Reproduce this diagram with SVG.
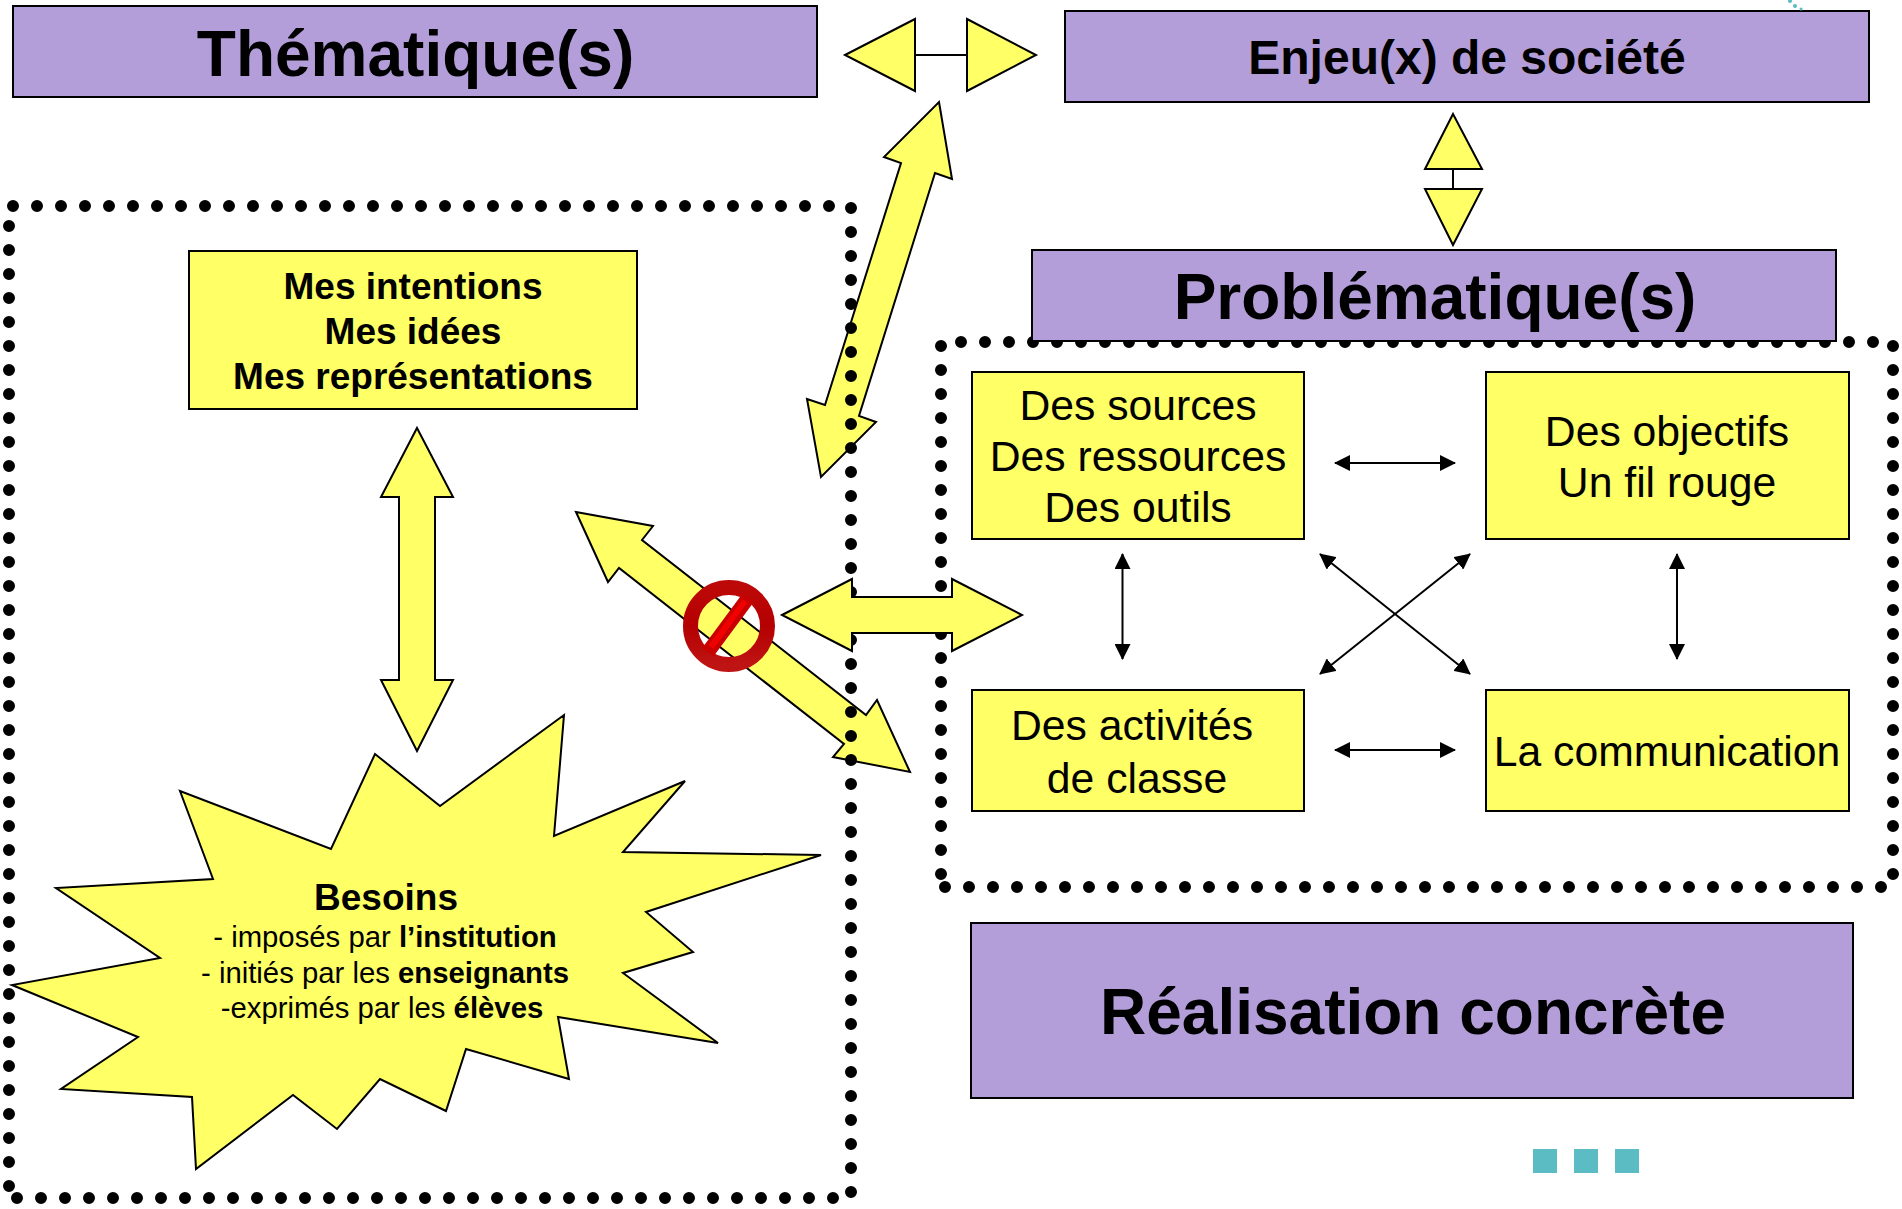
<svg xmlns="http://www.w3.org/2000/svg" width="1902" height="1209" viewBox="0 0 1902 1209">
<style>
text{font-family:"Liberation Sans",Arial,sans-serif;fill:#000;text-anchor:middle}
.p{fill:#b39ed9;stroke:#000;stroke-width:2}
.y{fill:#ffff66;stroke:#000;stroke-width:2}
.ya{fill:#ffff66;stroke:#000;stroke-width:2;stroke-linejoin:miter}
.t64{font-size:64px;font-weight:700}
.t48{font-size:48px;font-weight:700}
.t42{font-size:42.700px}
.t37{font-size:37px;font-weight:700}
.t28{font-size:29.300px}
.b{font-weight:700}
.dots{fill:none;stroke:#000;stroke-width:12;stroke-linecap:round;stroke-dasharray:0 24}
.thin{stroke:#000;stroke-width:2;fill:none;marker-start:url(#ah);marker-end:url(#ah)}
.sq{fill:#5bbcc4}
</style>
<defs>
<marker id="ah" markerUnits="userSpaceOnUse" markerWidth="16" markerHeight="16" refX="15" refY="8" orient="auto-start-reverse" viewBox="0 0 16 16"><path d="M0 0L16 8L0 16Z" fill="#000"/></marker>
<clipPath id="not-h"><path clip-rule="evenodd" d="M0 0H1902V1209H0Z M782 615L852 579V597H952V579L1022 615L952 651V633H852V651Z"/></clipPath>
<linearGradient id="ring" x1="0" y1="0" x2="0" y2="1"><stop offset="0" stop-color="#bd0808"/><stop offset=".5" stop-color="#b40000"/><stop offset="1" stop-color="#bf1414"/></linearGradient>
</defs>
<rect width="1902" height="1209" fill="#fff"/>

<g id="connectors">
<g id="arrow-thematique-enjeu"><path class="ya" d="M845 55L915 19V91Z"/><path class="ya" d="M967 19L1036 55L967 91Z"/><path d="M915 55H967" stroke="#000" stroke-width="2"/></g>
<g id="arrow-enjeu-problematique"><path class="ya" d="M1453 114L1482 169H1425Z"/><path class="ya" d="M1425 189H1482L1453 245Z"/><path d="M1453 169V189" stroke="#000" stroke-width="2"/></g>
<path id="arrow-diag-top" class="ya" d="M939 102L952 179L935 173L859 416L876 422L821 477L807 399L825 405L901 163L884 157Z"/>
<path id="arrow-diag-blocked" class="ya" d="M576 512L653 526L642 540L866 715L877 700L910 772L833 757L844 744L619 568L608 582Z"/>
<path id="arrow-intentions-besoins" class="ya" d="M417 428L453 497H435V680H453L417 751L381 680H399V497H381Z"/>
<path id="arrow-horizontal" class="ya" d="M782 615L852 579V597H952V579L1022 615L952 651V633H852V651Z"/>
<path class="thin" d="M1335 463H1455"/>
<path class="thin" d="M1335 750H1455"/>
<path class="thin" d="M1122.500 554V659"/>
<path class="thin" d="M1677 554V659"/>
<path class="thin" d="M1320 554L1470 674"/>
<path class="thin" d="M1470 554L1320 674"/>
</g>

<g id="besoins-star"><path class="y" d="M564 715L554 836L685 781L623 852L821 855L646 912L693 952L623 973L718 1043L558 1017L569 1079L466 1049L446 1111L380 1079L337 1129L293 1095L196 1169L192 1097L61 1089L138 1037L12 985L160 958L56 888L213 879L180 791L331 849L375 754L440 806Z"/>
<text class="t37" x="386" y="910">Besoins</text>
<text class="t28" x="385" y="947">- imposés par <tspan class="b">l’institution</tspan></text>
<text class="t28" x="385" y="983">- initiés par les <tspan class="b">enseignants</tspan></text>
<text class="t28" x="382" y="1018">-exprimés par les <tspan class="b">élèves</tspan></text>
</g>

<g id="frame-left" clip-path="url(#not-h)">
<path class="dots" d="M13 206H830"/>
<path class="dots" d="M9 226V1187"/>
<path class="dots" d="M17 1198H834"/>
<path class="dots" d="M851 208V1193"/>
</g>
<g id="frame-right" clip-path="url(#not-h)">
<path class="dots" d="M961 342H1874"/>
<path class="dots" d="M941 346V875"/>
<path class="dots" d="M945 887H1882"/>
<path class="dots" d="M1893 346V875"/>
</g>

<g id="thematique"><rect class="p" x="13" y="6" width="804" height="91"/><text class="t64" x="415.500" y="76">Thématique(s)</text></g>
<g id="enjeu"><rect class="p" x="1065" y="11" width="804" height="91"/><text class="t48" x="1467" y="74">Enjeu(x) de société</text></g>
<g id="problematique"><rect class="p" x="1032" y="250" width="804" height="91"/><text class="t64" x="1435" y="319">Problématique(s)</text></g>
<g id="realisation"><rect class="p" x="971" y="923" width="882" height="175"/><text class="t64" x="1413" y="1034">Réalisation concrète</text></g>

<g id="intentions"><rect class="y" x="189" y="251" width="448" height="158"/>
<text class="t37" x="413" y="299">Mes intentions</text><text class="t37" x="413" y="344">Mes idées</text><text class="t37" x="413" y="389">Mes représentations</text></g>
<g id="sources"><rect class="y" x="972" y="372" width="332" height="167"/>
<text class="t42" x="1138" y="420">Des sources</text><text class="t42" x="1138" y="471">Des ressources</text><text class="t42" x="1138" y="522">Des outils</text></g>
<g id="objectifs"><rect class="y" x="1486" y="372" width="363" height="167"/>
<text class="t42" x="1667" y="446">Des objectifs</text><text class="t42" x="1667" y="497">Un fil rouge</text></g>
<g id="activites"><rect class="y" x="972" y="690" width="332" height="121"/>
<text class="t42" x="1132" y="740">Des activités</text><text class="t42" x="1137" y="793">de classe</text></g>
<g id="communication"><rect class="y" x="1486" y="690" width="363" height="121"/>
<text class="t42" x="1667" y="766">La communication</text></g>

<g id="interdit">
<circle cx="729" cy="626" r="38.500" fill="none" stroke="url(#ring)" stroke-width="15"/>
<path d="M708 652L748 598" stroke="#c80000" stroke-width="14"/>
<path d="M711 647L745 601" stroke="#f00000" stroke-width="6"/>
</g>

<g id="decor">
<rect class="sq" x="1533" y="1149" width="24" height="24"/>
<rect class="sq" x="1574" y="1149" width="24" height="24"/>
<rect class="sq" x="1615" y="1149" width="24" height="24"/>
<circle class="sq" cx="1790" cy="1" r="2"/><circle class="sq" cx="1795" cy="6" r="2"/><circle class="sq" cx="1801" cy="9" r="1.500"/>
</g>
</svg>
